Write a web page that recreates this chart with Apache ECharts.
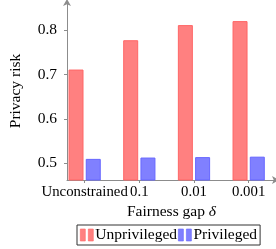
<!DOCTYPE html>
<html>
<head>
<meta charset="utf-8">
<script src="https://cdn.jsdelivr.net/npm/echarts@6/dist/echarts.min.js"></script>
<style>
html,body{margin:0;padding:0;background:#fff;}
#c{width:276px;height:249px;}
</style>
</head>
<body>
<div id="c"></div>
<script>
const categories = ['Unconstrained', '0.1', '0.01', '0.001'];
const unprivileged = [0.711, 0.777, 0.811, 0.820];
const privileged = [0.510, 0.513, 0.514, 0.515];
const yTicks = [0.5, 0.6, 0.7, 0.8];
const seriesNames = ['Unprivileged', 'Privileged'];

const FONT = 'Liberation Serif';
const FS = 15.5;
const FSX = 14.8;
const yMin = 0.4625, yMax = 0.863;
const axisGray = '#8c8c8c';

const chart = echarts.init(document.getElementById('c'), null, {renderer: 'canvas'});
chart.setOption({
  animation: false,
  backgroundColor: '#fff',
  textStyle: {fontFamily: FONT, color: '#000'},
  grid: [
    {left: 57.3, width: 221.3, top: 2, bottom: 69},
    {left: 60, right: 0, top: 2, bottom: 69}
  ],
  legend: {
    data: seriesNames,
    left: 77, top: 225,
    padding: [2, 3],
    itemGap: 1,
    itemWidth: 13, itemHeight: 12,
    icon: 'path://M0,0H5V12H0Z M8,0H13V12H8Z',
    itemStyle: {borderWidth: 0.6},
    borderColor: '#333',
    borderWidth: 1,
    borderRadius: 0,
    textStyle: {fontFamily: FONT, fontSize: FS, color: '#000', padding: [0, 0, 0, -3]}
  },
  xAxis: [
    {
      type: 'category', gridIndex: 0, data: categories,
      axisLine: {show: false},
      axisTick: {show: true, alignWithLabel: true, length: 3, lineStyle: {color: axisGray}},
      axisLabel: {fontFamily: FONT, fontSize: FSX, color: '#000', margin: 5, interval: 0},
      splitLine: {show: false}
    },
    {
      type: 'value', gridIndex: 1, min: 0, max: 1,
      axisLine: {show: true, symbol: ['none', 'arrow'], symbolSize: [6, 7], symbolOffset: [0, 3], lineStyle: {color: axisGray, width: 1}},
      axisTick: {show: false}, axisLabel: {show: false}, splitLine: {show: false},
      name: 'Fairness gap {i|δ}', nameLocation: 'middle', nameGap: 24,
      nameTextStyle: {fontFamily: FONT, fontSize: FS, color: '#000',
        rich: {i: {fontFamily: FONT, fontSize: FS, fontStyle: 'italic', color: '#000'}}}
    }
  ],
  yAxis: [
    {type: 'value', gridIndex: 0, min: yMin, max: yMax, show: false},
    {
      type: 'value', gridIndex: 1, min: yMin, max: yMax,
      axisLine: {show: true, symbol: ['none', 'arrow'], symbolSize: [6, 7], symbolOffset: [0, 3], lineStyle: {color: axisGray, width: 1}},
      axisTick: {show: true, length: 3, customValues: yTicks, lineStyle: {color: axisGray}},
      axisLabel: {customValues: yTicks, fontFamily: FONT, fontSize: FS, color: '#000', margin: 10,
        formatter: v => v.toFixed(1)},
      splitLine: {show: false},
      name: 'Privacy risk', nameLocation: 'middle', nameRotate: 90, nameGap: 43,
      nameTextStyle: {fontFamily: FONT, fontSize: FS, color: '#000'}
    }
  ],
  series: [
    {
      name: seriesNames[0], type: 'bar', xAxisIndex: 0, yAxisIndex: 0,
      data: unprivileged, barWidth: 15, barGap: '15%',
      itemStyle: {color: '#ff8080', borderColor: '#ff6666', borderWidth: 1}
    },
    {
      name: seriesNames[1], type: 'bar', xAxisIndex: 0, yAxisIndex: 0,
      data: privileged, barWidth: 15, barGap: '15%',
      itemStyle: {color: '#8080ff', borderColor: '#6666ff', borderWidth: 1}
    }
  ]
});
</script>
</body>
</html>
